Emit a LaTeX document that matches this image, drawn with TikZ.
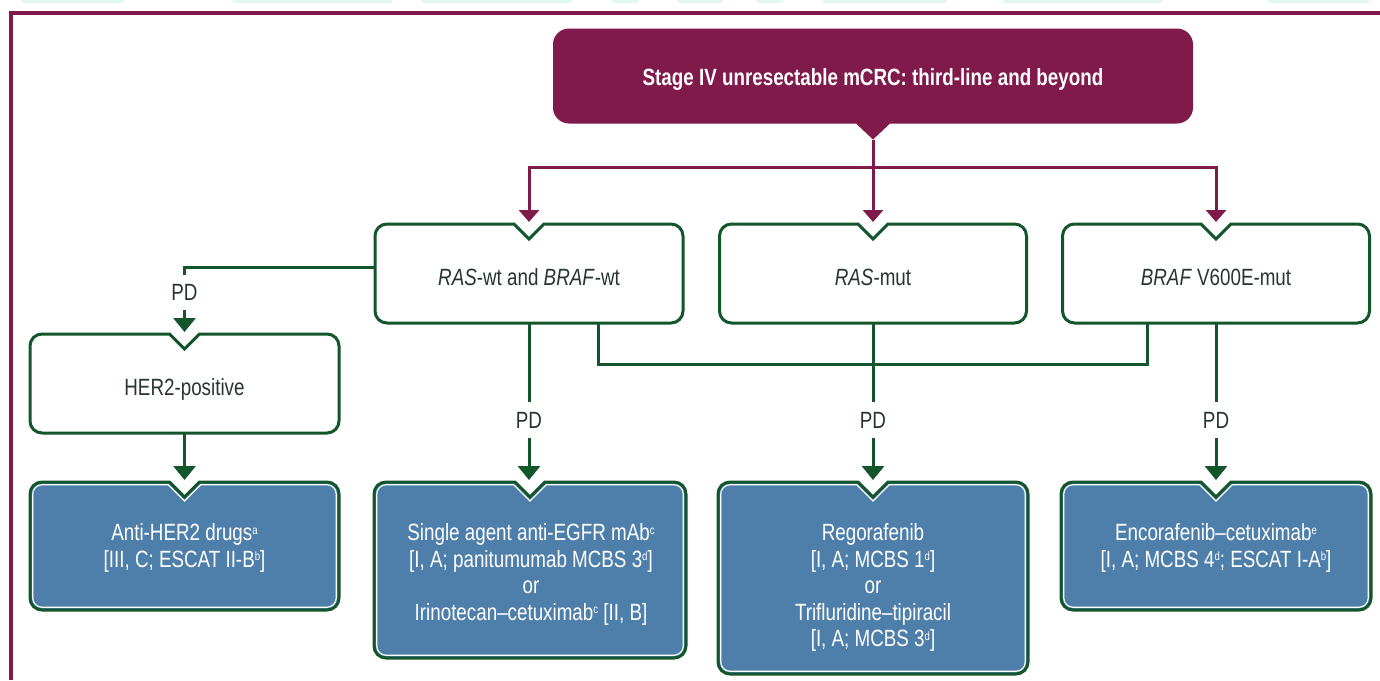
\documentclass[tikz,border=0pt]{standalone}
\usepackage{fontspec}
\setmainfont{Liberation Sans}[FakeStretch=0.8]
\usetikzlibrary{arrows.meta,calc,backgrounds}
\definecolor{mar}{RGB}{127,26,75}
\definecolor{dg}{RGB}{20,86,44}
\definecolor{tb}{RGB}{78,127,170}
\definecolor{tx}{RGB}{40,54,50}
\definecolor{pale}{RGB}{226,247,241}
\newcommand\firststrut{\rule{0pt}{21pt}}
\newcommand\sups[1]{\raisebox{6.5pt}{\fontsize{12}{12}\selectfont #1}}
% rounded box with a V notch in the middle of its top edge
% #1 node, #2 inset, #3 corner radius, #4 style
\newcommand\notchbox[4]{%
 \draw[#4] ($(#1.north)+({-(15+0.41*#2)},#2)$)
  -- ($(#1.north west)+({#2+#3},#2)$)
  .. controls ($(#1.north west)+({#2+0.4477*#3},#2)$) and ($(#1.north west)+(#2,{#2+0.4477*#3})$) .. ($(#1.north west)+(#2,{#2+#3})$)
  -- ($(#1.south west)+(#2,{-#2-#3})$)
  .. controls ($(#1.south west)+(#2,{-#2-0.4477*#3})$) and ($(#1.south west)+({#2+0.4477*#3},-#2)$) .. ($(#1.south west)+({#2+#3},-#2)$)
  -- ($(#1.south east)+({-#2-#3},-#2)$)
  .. controls ($(#1.south east)+({-#2-0.4477*#3},-#2)$) and ($(#1.south east)+(-#2,{-#2-0.4477*#3})$) .. ($(#1.south east)+(-#2,{-#2-#3})$)
  -- ($(#1.north east)+(-#2,{#2+#3})$)
  .. controls ($(#1.north east)+(-#2,{#2+0.4477*#3})$) and ($(#1.north east)+({-#2-0.4477*#3},#2)$) .. ($(#1.north east)+({-#2-#3},#2)$)
  -- ($(#1.north)+({15+0.41*#2},#2)$)
  -- ($(#1.north)+(0,{15+1.41*#2})$) -- cycle;}
\begin{document}
\begin{tikzpicture}[x=1pt,y=-1pt,
  every node/.style={inner sep=0pt, outer sep=0pt},
  box/.style={rectangle, draw=none, align=center, text=tx,
    font=\fontsize{23.5}{27}\selectfont, text height=28pt, text depth=4pt},
  tbox/.style={rectangle, draw=none},
  ttext/.style={anchor=north, align=center, text=white,
    font=\fontsize{23.5}{26.5}\selectfont},
  pd/.style={text=tx, font=\fontsize{23.5}{27}\selectfont, inner ysep=9.5pt, inner xsep=2pt},
  gline/.style={draw=dg, line width=3pt},
  garrow/.style={gline, -{Triangle[length=14pt,width=22pt]}, shorten >=2pt},
  mline/.style={draw=mar, line width=3pt},
  marrow/.style={mline, -{Triangle[length=12pt,width=20pt]}, shorten >=2pt},
]
\useasboundingbox (0,0) rectangle (1380,680);

% faint cut-off shapes at the top edge
\foreach \a/\b in {22/124,233/392,422/572,612/638,678/722,757/783,823/946,1003/1162,1268/1369}
  \fill[pale] (\a,0) rectangle (\b,3);

% frame
\draw[mar, line width=3.5pt] (11,680) -- (11,13) -- (1380,13);

% title
\node[box, minimum width=640pt, minimum height=95pt, text=white,
  font=\fontsize{23.5}{27}\selectfont\bfseries, text height=23pt, text depth=4pt]
  (stage) at (873,76) {Stage IV unresectable mCRC: third-line and beyond};

% first row
\node[box, minimum width=308pt, minimum height=99pt] (raswt) at (529,273.5) {\textit{RAS}-wt and \textit{BRAF}-wt};
\node[box, minimum width=307pt, minimum height=99pt] (rasmut) at (873,273.5) {\textit{RAS}-mut};
\node[box, minimum width=307pt, minimum height=99pt] (braf) at (1216,273.5) {\textit{BRAF} V600E-mut};
\node[box, minimum width=309pt, minimum height=99pt] (her2) at (184.5,383.5) {HER2-positive};

% PD labels
\node[pd] (pd1) at (184.5,292.5) {PD};
\node[pd] (pd2) at (529,420) {PD};
\node[pd] (pd3) at (873,420) {PD};
\node[pd] (pd4) at (1216,420) {PD};

% treatment boxes
\node[tbox, minimum width=309pt, minimum height=128pt] (antiher2) at (184.5,546) {};
\node[tbox, minimum width=312pt, minimum height=176pt] (single) at (530,570) {};
\node[tbox, minimum width=310pt, minimum height=192pt] (rego) at (873,578) {};
\node[tbox, minimum width=310pt, minimum height=128pt] (enco) at (1216,546) {};

\node[ttext] (t1) at (184.5,519.5) {\firststrut Anti-HER2 drugs\sups{a}\\{}[III, C; ESCAT II-B\sups{b}]};
\node[ttext] (t2) at (531,519.5) {\firststrut Single agent anti-EGFR mAb\sups{c}\\{}[I, A; panitumumab MCBS 3\sups{d}]\\or\\Irinotecan--cetuximab\sups{c} [II, B]};
\node[ttext] (t3) at (873,519.5) {\firststrut Regorafenib\\{}[I, A; MCBS 1\sups{d}]\\or\\Trifluridine--tipiracil\\{}[I, A; MCBS 3\sups{d}]};
\node[ttext] (t4) at (1216,519.5) {\firststrut Encorafenib--cetuximab\sups{e}\\{}[I, A; MCBS 4\sups{d}; ESCAT I-A\sups{b}]};

% shapes behind the texts
\begin{pgfonlayer}{background}
  \fill[white] (0,0) rectangle (1380,680);
  \fill[mar] ($(stage.south)+(17,0)$)
    -- ($(stage.south east)+(-16,0)$)
    .. controls ($(stage.south east)+(-7.16,0)$) and ($(stage.south east)+(0,-7.16)$) .. ($(stage.south east)+(0,-16)$)
    -- ($(stage.north east)+(0,16)$)
    .. controls ($(stage.north east)+(0,7.16)$) and ($(stage.north east)+(-7.16,0)$) .. ($(stage.north east)+(-16,0)$)
    -- ($(stage.north west)+(16,0)$)
    .. controls ($(stage.north west)+(7.16,0)$) and ($(stage.north west)+(0,7.16)$) .. ($(stage.north west)+(0,16)$)
    -- ($(stage.south west)+(0,-16)$)
    .. controls ($(stage.south west)+(0,-7.16)$) and ($(stage.south west)+(7.16,0)$) .. ($(stage.south west)+(16,0)$)
    -- ($(stage.south)+(-17,0)$)
    -- ($(stage.south)+(0,16)$) -- cycle;
  \notchbox{raswt}{0}{12}{gline}
  \notchbox{rasmut}{0}{12}{gline}
  \notchbox{braf}{0}{12}{gline}
  \notchbox{her2}{0}{12}{gline}
  \notchbox{antiher2}{0}{12}{gline, fill=tb}
  \notchbox{antiher2}{2.8}{9}{draw=white, line width=1.2pt}
  \notchbox{single}{0}{12}{gline, fill=tb}
  \notchbox{single}{2.8}{9}{draw=white, line width=1.2pt}
  \notchbox{rego}{0}{12}{gline, fill=tb}
  \notchbox{rego}{2.8}{9}{draw=white, line width=1.2pt}
  \notchbox{enco}{0}{12}{gline, fill=tb}
  \notchbox{enco}{2.8}{9}{draw=white, line width=1.2pt}
\end{pgfonlayer}

% maroon connectors
\coordinate (stip) at ($(stage.south)+(0,16)$);
\coordinate (split) at ($(stip)+(0,28)$);
\draw[marrow] (stip) -- (rasmut.north);
\draw[marrow] (split) -| (raswt.north);
\draw[marrow] (split) -| (braf.north);

% green connectors
\coordinate (hl) at ($(raswt.west)+(0,-6)$);
\draw[gline] (hl) -| (pd1.north);
\draw[garrow] (pd1.south) -- (her2.north);
\draw[garrow] (her2.south) -- (antiher2.north);
\draw[gline] (raswt.south) -- (pd2.north);
\draw[garrow] (pd2.south) -- (raswt.south |- single.north);
\draw[gline] (rasmut.south) -- (pd3.north);
\draw[garrow] (pd3.south) -- (rego.north);
\draw[gline] (braf.south) -- (pd4.north);
\draw[garrow] (pd4.south) -- (enco.north);
\coordinate (jl) at ($(raswt.south)+(69,0)$);
\coordinate (jr) at ($(braf.south)+(-69,0)$);
\coordinate (jy) at ($(raswt.south)+(0,41.5)$);
\draw[gline] (jl) |- (jy -| jr) -- (jr);
\end{tikzpicture}
\end{document}
